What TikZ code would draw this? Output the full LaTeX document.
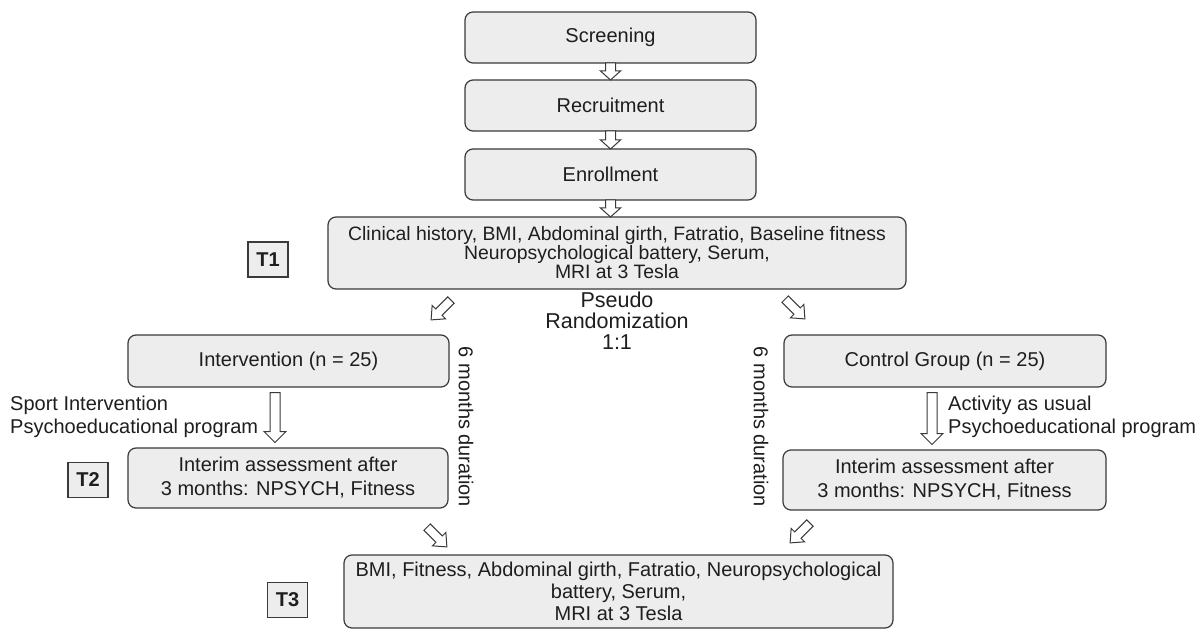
\documentclass[tikz,border=0pt]{standalone}
\usepackage{fontspec}
\setmainfont{Liberation Sans}
\usetikzlibrary{calc}
\definecolor{boxfill}{HTML}{EDEDED}
\definecolor{linec}{HTML}{3A3A3A}
\definecolor{txt}{HTML}{1E1E1E}
\newcommand\fsz[1]{\fontsize{20bp}{#1}\selectfont}
% center coordinate, angle, length, shaft half width, head half width, head length
\newcommand\harrow[6]{%
  \draw[arrowshape, shift={(#1)}, rotate=#2]
    ({-#3/2},{-#4}) -- ({#3/2-#6},{-#4}) -- ({#3/2-#6},{-#5}) -- ({#3/2},0)
    -- ({#3/2-#6},{#5}) -- ({#3/2-#6},{#4}) -- ({-#3/2},{#4}) -- cycle;}
\tikzset{
  box/.style={draw=linec, fill=boxfill, rounded corners=8bp, line width=1.2bp,
    text=txt, align=center, inner sep=0pt},
  lbl/.style={draw=linec, fill=boxfill, line width=1.2bp, text=txt,
    font=\bfseries\fsz{23bp}, minimum width=40bp, minimum height=35bp, inner sep=0pt},
  arrowshape/.style={draw=linec, fill=white, line width=1bp, line join=miter},
  plain/.style={text=txt, inner sep=0pt}
}
\begin{document}
\begin{tikzpicture}[x=1bp,y=-1bp]
\useasboundingbox (0,0) rectangle (1204,629);
\fill[white] (0,0) rectangle (1204,629);

% top chain
\node[box, font=\fsz{23bp}, minimum width=291bp, minimum height=51bp] (scr) at (610.5,37.5) {Screening};
\node[box, font=\fsz{23bp}, minimum width=291bp, minimum height=51bp] (rec) at (610.5,105.5) {Recruitment};
\node[box, font=\fsz{23bp}, minimum width=291bp, minimum height=51bp] (enr) at (610.5,174.5) {Enrollment};

\node[box, font=\fontsize{19.4bp}{19bp}\selectfont, minimum width=578bp, minimum height=72bp] (t1) at (617,253)
  {Clinical history, BMI, Abdominal girth, Fatratio, Baseline fitness\\
   Neuropsychological battery, Serum,\\ MRI at 3 Tesla};
\node[lbl] (lt1) at (268,259.5) {T1};

\node[plain, font=\fontsize{21.5bp}{21bp}\selectfont, align=center] (rand) at (617,321)
  {Pseudo\\Randomization\\1:1};

% groups
\node[box, font=\fsz{23bp}, minimum width=321bp, minimum height=52bp] (int) at (288.5,361) {Intervention (n = 25)};
\node[box, font=\fsz{23bp}, minimum width=322bp, minimum height=52bp] (ctl) at (945,361) {Control Group (n = 25)};

\node[plain, font=\fsz{23bp}, rotate=-90] (durl) at (466,427) {6 months duration};
\node[plain, font=\fsz{23bp}, rotate=-90] (durr) at (761,427) {6 months duration};

\node[plain, font=\fsz{23bp}, align=left, anchor=west] (sport) at (10,416.5)
  {Sport Intervention\\Psychoeducational program};
\node[plain, font=\fsz{23bp}, align=left, anchor=west] (act) at (948,416.5)
  {Activity as usual\\Psychoeducational program};

\node[box, font=\fsz{24bp}, minimum width=320bp, minimum height=60bp] (int2) at (288,478)
  {Interim assessment after\\3 months: NPSYCH, Fitness};
\node[box, font=\fsz{24bp}, minimum width=323bp, minimum height=60bp] (ctl2) at (944.5,480)
  {Interim assessment after\\3 months: NPSYCH, Fitness};
\node[lbl] (lt2) at (88,480) {T2};

\node[box, font=\fsz{22bp}, minimum width=549bp, minimum height=73bp] (t3) at (618.5,591.5)
  {BMI, Fitness, Abdominal girth, Fatratio, Neuropsychological\\
   battery, Serum,\\ MRI at 3 Tesla};
\node[lbl] (lt3) at (287.5,600) {T3};

% connectors (hollow block arrows)
\coordinate (a1) at ($(scr.south)!0.5!(rec.north)$);
\coordinate (a2) at ($(rec.south)!0.5!(enr.north)$);
\coordinate (a3) at ($(enr.south)!0.5!(enr.south|-t1.north)$);
\harrow{a1}{-90}{17}{5}{10}{9}
\harrow{a2}{-90}{18}{5}{10}{9}
\harrow{a3}{-90}{17}{5}{10}{9}

\coordinate (d1) at (441,310);
\coordinate (d2) at (795,309);
\harrow{d1}{-135}{28}{4.5}{9.5}{11}
\harrow{d2}{-45}{28}{4.5}{9.5}{11}

\coordinate (v1) at ($(275,0|-int.south)!0.5!(275,0|-int2.north)$);
\coordinate (v2) at ($(932,0|-ctl.south)!0.5!(932,0|-ctl2.north)$);
\harrow{v1}{-90}{50}{5}{11}{11}
\harrow{v2}{-90}{52}{5}{11}{11}

\coordinate (d3) at (437,537);
\coordinate (d4) at (800,533);
\harrow{d3}{-45}{28}{4.5}{9.5}{11}
\harrow{d4}{-135}{28}{4.5}{9.5}{11}
\end{tikzpicture}
\end{document}
